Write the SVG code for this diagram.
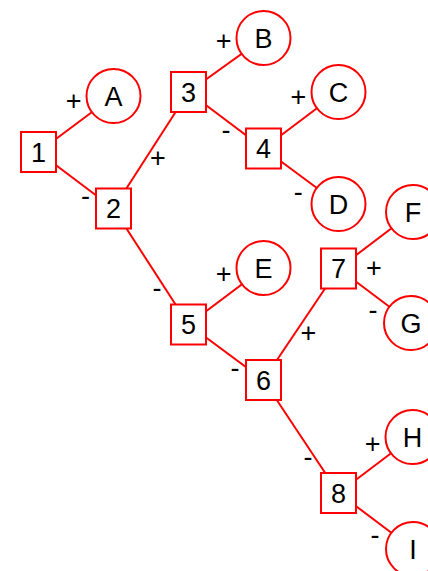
<svg xmlns="http://www.w3.org/2000/svg" width="428" height="571" viewBox="0 0 428 571">
<style>
.e{stroke:#ff0000;stroke-width:2;fill:none}
.b{fill:#ffffff;stroke:#ff0000;stroke-width:2}
.c{fill:#ffffff;stroke:#ff0000;stroke-width:2}
text{font-family:"Liberation Sans",Arial,sans-serif;font-size:27px;fill:#000;text-anchor:middle}
</style>
<rect width="428" height="571" fill="#ffffff"/>
<g id="connectors">
<line class="e" x1="38.5" y1="152" x2="113.5" y2="96"/>
<line class="e" x1="38.5" y1="152" x2="113.5" y2="208.5"/>
<line class="e" x1="113.5" y1="208.5" x2="188.5" y2="92"/>
<line class="e" x1="113.5" y1="208.5" x2="188.5" y2="324.5"/>
<line class="e" x1="188.5" y1="92" x2="263.5" y2="38"/>
<line class="e" x1="188.5" y1="92" x2="263.5" y2="148.5"/>
<line class="e" x1="263.5" y1="148.5" x2="338.5" y2="92"/>
<line class="e" x1="263.5" y1="148.5" x2="338.5" y2="204"/>
<line class="e" x1="188.5" y1="324.5" x2="263.5" y2="268"/>
<line class="e" x1="188.5" y1="324.5" x2="263.5" y2="380"/>
<line class="e" x1="263.5" y1="380" x2="338.5" y2="268.5"/>
<line class="e" x1="263.5" y1="380" x2="338.5" y2="493"/>
<line class="e" x1="338.5" y1="268.5" x2="413" y2="212"/>
<line class="e" x1="338.5" y1="268.5" x2="411" y2="323"/>
<line class="e" x1="338.5" y1="493" x2="412.5" y2="437"/>
<line class="e" x1="338.5" y1="493" x2="413" y2="549"/>
<text x="73.7" y="110.4">+</text>
<text x="85.5" y="205.2">-</text>
<text x="158" y="167.4">+</text>
<text x="157" y="297.2">-</text>
<text x="223.7" y="50.4">+</text>
<text x="226" y="138.9">-</text>
<text x="298.3" y="106.1">+</text>
<text x="298.3" y="200.5">-</text>
<text x="223.7" y="283.4">+</text>
<text x="235" y="377.2">-</text>
<text x="308.3" y="341.9">+</text>
<text x="308" y="466.2">-</text>
<text x="374" y="276.9">+</text>
<text x="373" y="318.9">-</text>
<text x="372.7" y="452.7">+</text>
<text x="375" y="544.2">-</text>
</g>
<g id="n1"><rect class="b" x="21" y="132" width="35" height="40"/><text x="38.5" y="161.6">1</text></g>
<g id="n2"><rect class="b" x="96" y="188.5" width="35" height="40"/><text x="113.5" y="218.1">2</text></g>
<g id="n3"><rect class="b" x="171" y="72" width="35" height="40"/><text x="188.5" y="101.6">3</text></g>
<g id="n4"><rect class="b" x="246" y="128.5" width="35" height="40"/><text x="263.5" y="158.1">4</text></g>
<g id="n5"><rect class="b" x="171" y="304.5" width="35" height="40"/><text x="188.5" y="334.1">5</text></g>
<g id="n6"><rect class="b" x="246" y="360" width="35" height="40"/><text x="263.5" y="389.6">6</text></g>
<g id="n7"><rect class="b" x="321" y="248.5" width="35" height="40"/><text x="338.5" y="278.1">7</text></g>
<g id="n8"><rect class="b" x="321" y="473" width="35" height="40"/><text x="338.5" y="502.6">8</text></g>
<g id="nA"><circle class="c" cx="113.5" cy="96" r="27"/><text x="113.5" y="105.6">A</text></g>
<g id="nB"><circle class="c" cx="263.5" cy="38" r="27"/><text x="263.5" y="47.6">B</text></g>
<g id="nC"><circle class="c" cx="338.5" cy="92" r="27"/><text x="338.5" y="101.6">C</text></g>
<g id="nD"><circle class="c" cx="338.5" cy="204" r="27"/><text x="338.5" y="213.6">D</text></g>
<g id="nE"><circle class="c" cx="263.5" cy="268" r="27"/><text x="263.5" y="277.6">E</text></g>
<g id="nF"><circle class="c" cx="413" cy="212" r="27"/><text x="413" y="221.6">F</text></g>
<g id="nG"><circle class="c" cx="411" cy="323" r="27"/><text x="411" y="332.6">G</text></g>
<g id="nH"><circle class="c" cx="412.5" cy="437" r="27"/><text x="412.5" y="446.6">H</text></g>
<g id="nI"><circle class="c" cx="413" cy="549" r="27"/><text x="413" y="558.6">I</text></g>
</svg>
